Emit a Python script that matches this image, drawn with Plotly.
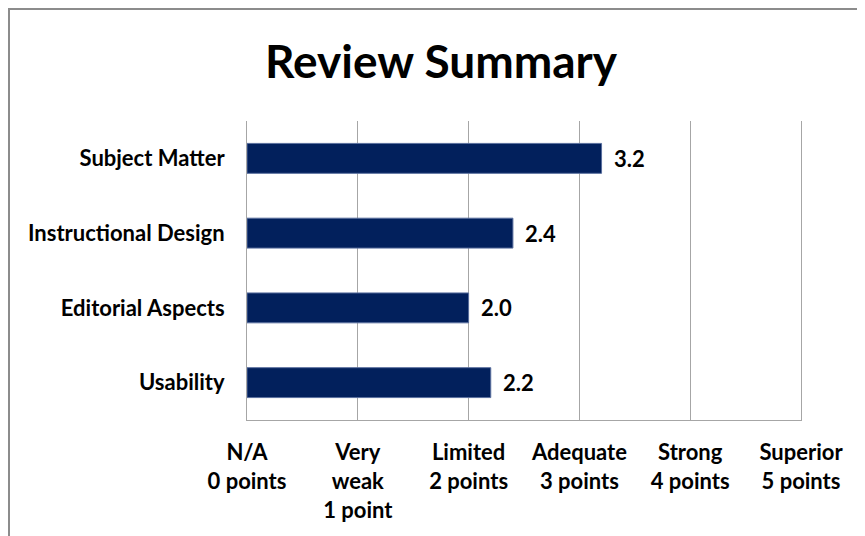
import plotly.graph_objects as go

categories = ["Subject Matter", "Instructional Design", "Editorial Aspects", "Usability"]
scores = [3.2, 2.4, 2.0, 2.2]
tick_values = [0, 1, 2, 3, 4, 5]
tick_labels = ["N/A<br>0 points", "Very<br>weak<br>1 point", "Limited<br>2 points",
               "Adequate<br>3 points", "Strong<br>4 points", "Superior<br>5 points"]

FONT = "Lato"
W, H = 865, 536
OFF = 8  # page body margin
ML, MR, MT, MB = 247 - OFF, 64 + OFF, 121 - OFF, 116 + OFF
pw, ph = W - ML - MR, H - MT - MB

fig = go.Figure()
fig.add_trace(go.Bar(
    x=scores, y=categories, orientation="h",
    marker=dict(color="#02205C", line=dict(color="#5A6F9E", width=1)),
    width=0.4, hoverinfo="skip",
))

for c, v in zip(categories, scores):
    fig.add_annotation(x=v, y=c, xref="x", yref="y", text=f"{v:.1f}",
                       showarrow=False, xanchor="left", xshift=10,
                       font=dict(family=FONT, size=22, color="#000000", weight="bold"))

# outer chart border
fig.add_shape(type="rect", xref="paper", yref="paper",
              x0=(1 - ML) / pw, x1=(W + 20 - ML) / pw,
              y0=(H - MB - (H + 20)) / ph, y1=(H - MB - 1) / ph,
              line=dict(color="#8C8C8C", width=2), fillcolor="rgba(0,0,0,0)", layer="below")

fig.update_layout(
    width=W, height=H,
    margin=dict(l=ML, r=MR, t=MT, b=MB),
    paper_bgcolor="white", plot_bgcolor="white",
    showlegend=False,
    title=dict(text="<b>Review Summary</b>", x=(441 - OFF) / W, xanchor="center",
               y=1 - (62 - OFF) / H, yanchor="middle", yref="container",
               font=dict(family=FONT, size=46, color="#000000")),
    font=dict(family=FONT, color="#000000"),
)
fig.update_xaxes(range=[0, 5], tickvals=tick_values, ticktext=tick_labels,
                 showgrid=True, gridcolor="#A6A6A6", gridwidth=1,
                 showline=True, linecolor="#A6A6A6", linewidth=1,
                 zeroline=False, ticks="", ticklabelstandoff=13,
                 tickfont=dict(family=FONT, size=22, color="#000000", weight="bold"),
                 fixedrange=True)
fig.update_yaxes(categoryorder="array", categoryarray=categories, autorange="reversed",
                 showgrid=False, showline=True, linecolor="#A6A6A6", linewidth=1,
                 mirror=True,
                 zeroline=False, ticks="", ticklabelstandoff=17,
                 tickfont=dict(family=FONT, size=22, color="#000000", weight="bold"),
                 fixedrange=True)

fig.write_html("out.html")
